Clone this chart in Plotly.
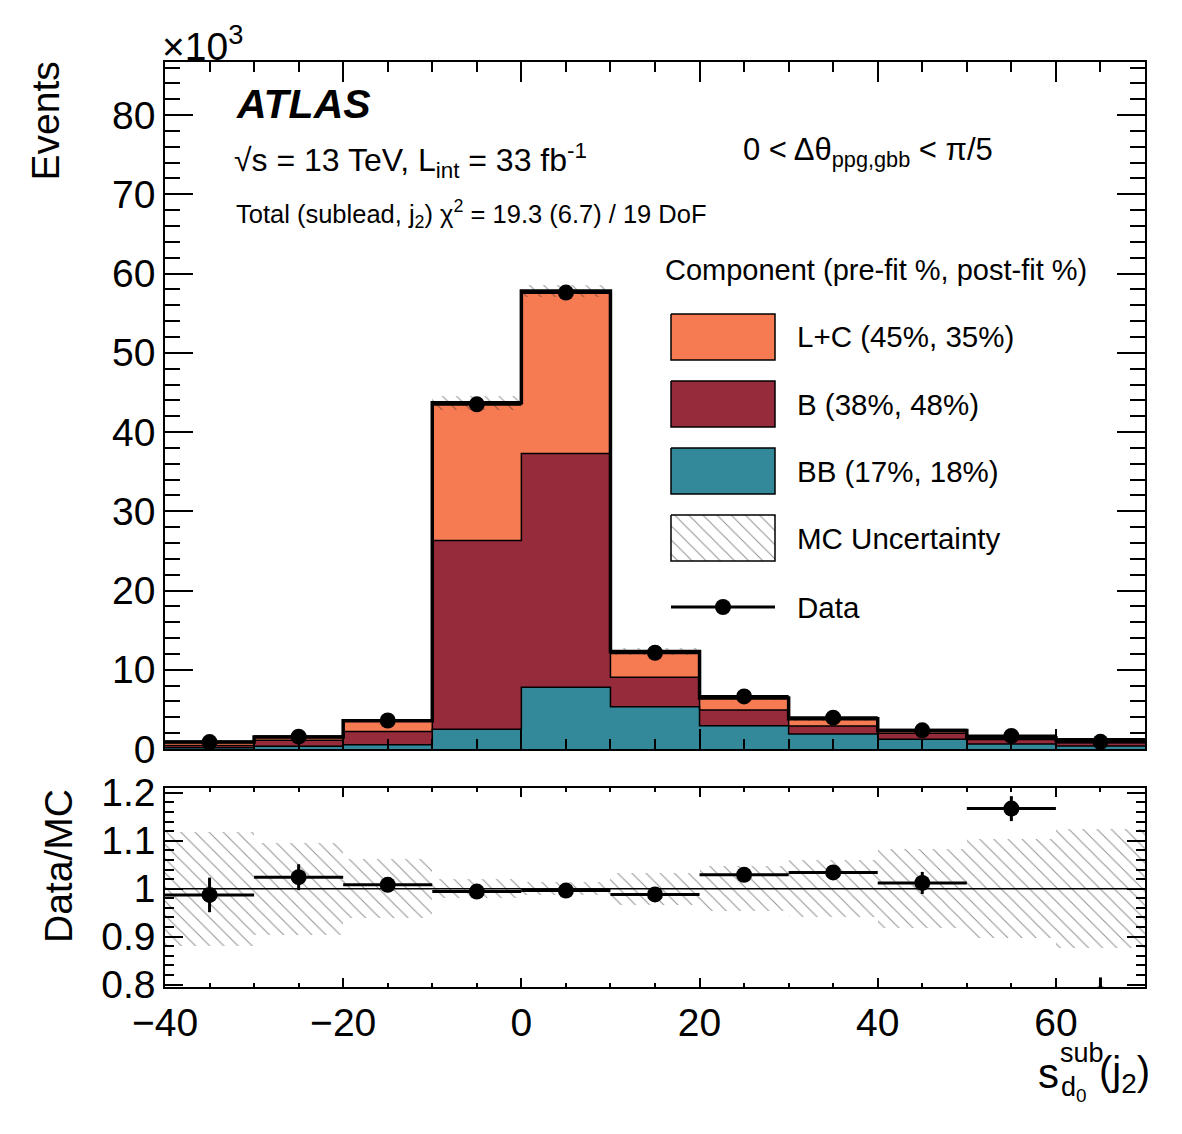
import plotly.graph_objects as go

# ---------------- data (thousands of events) ----------------
bin_centers = [-35, -25, -15, -5, 5, 15, 25, 35, 45, 55, 65]
bin_width = 10
bb_vals = [0.15, 0.35, 0.55, 2.5, 7.8, 5.34, 2.94, 1.89, 1.22, 0.63, 0.38]
b_vals = [0.30, 0.75, 1.65, 23.8, 29.5, 3.71, 1.98, 1.01, 0.76, 0.57, 0.42]
lc_vals = [0.43, 0.42, 1.37, 17.4, 20.5, 3.25, 1.53, 0.92, 0.35, 0.22, 0.36]
data_vals = [0.87, 1.56, 3.6, 43.5, 57.6, 12.15, 6.63, 3.95, 2.36, 1.65, 0.9]
ratio_vals = [0.987, 1.024, 1.008, 0.994, 0.996, 0.988, 1.029, 1.034, 1.012, 1.167, 0.78]
ratio_err = [0.036, 0.027, 0.015, 0.006, 0.005, 0.010, 0.012, 0.015, 0.023, 0.026, 0.035]
mc_rel_unc = [0.119, 0.096, 0.061, 0.020, 0.013, 0.033, 0.047, 0.060, 0.082, 0.103, 0.124]

legend_labels = ["L+C (45%, 35%)", "B (38%, 48%)", "BB (17%, 18%)", "MC Uncertainty", "Data"]
col_lc = "#F67B52"
col_b = "#962B3C"
col_bb = "#338899"

FONT = "Liberation Sans, Arial, Helvetica, sans-serif"

# derived
n = len(bin_centers)
cum_bb = bb_vals
cum_b = [bb_vals[i] + b_vals[i] for i in range(n)]
total = [cum_b[i] + lc_vals[i] for i in range(n)]
unc_abs = [total[i] * mc_rel_unc[i] for i in range(n)]
edges = [c - bin_width / 2 for c in bin_centers] + [bin_centers[-1] + bin_width / 2]

fig = go.Figure()

# stacked fills
for base, h, col in [([0] * n, bb_vals, col_bb), (cum_bb, b_vals, col_b), (cum_b, lc_vals, col_lc)]:
    fig.add_trace(go.Bar(x=bin_centers, y=h, base=base, width=bin_width,
                         marker=dict(color=col, line=dict(width=0)),
                         xaxis="x", yaxis="y", showlegend=False, hoverinfo="skip"))

# component outlines (step)
def step_y(v):
    return list(v) + [v[-1]]

for v in [cum_bb, cum_b]:
    fig.add_trace(go.Scatter(x=edges, y=step_y(v), mode="lines", line=dict(color="black", width=1.5, shape="hv"),
                             xaxis="x", yaxis="y", showlegend=False, hoverinfo="skip"))

HATCH = dict(shape="\\", fgcolor="#222", bgcolor="rgba(0,0,0,0)", size=10, solidity=0.1)

# MC uncertainty hatch (top)
fig.add_trace(go.Bar(x=bin_centers, y=[2 * u for u in unc_abs], base=[total[i] - unc_abs[i] for i in range(n)],
                     width=bin_width,
                     marker=dict(color="rgba(0,0,0,0)", line=dict(width=0), pattern=HATCH),
                     xaxis="x", yaxis="y", showlegend=False, hoverinfo="skip"))

# total outline
fig.add_trace(go.Scatter(x=edges, y=step_y(total), mode="lines", line=dict(color="black", width=3.5, shape="hv"),
                         xaxis="x", yaxis="y", showlegend=False, hoverinfo="skip"))

# data top
fig.add_trace(go.Scatter(x=bin_centers, y=data_vals, mode="markers",
                         marker=dict(color="black", size=16),
                         error_x=dict(type="constant", value=bin_width / 2, color="black", thickness=3, width=0),
                         xaxis="x", yaxis="y", showlegend=False))

# ratio hatch
fig.add_trace(go.Bar(x=bin_centers, y=[2 * u for u in mc_rel_unc], base=[1 - u for u in mc_rel_unc],
                     width=bin_width,
                     marker=dict(color="rgba(0,0,0,0)", line=dict(width=0), pattern=HATCH),
                     xaxis="x2", yaxis="y2", showlegend=False, hoverinfo="skip"))

# ratio points
fig.add_trace(go.Scatter(x=bin_centers, y=ratio_vals, mode="markers",
                         marker=dict(color="black", size=16),
                         error_x=dict(type="constant", value=bin_width / 2, color="black", thickness=3, width=0),
                         error_y=dict(type="data", array=ratio_err, color="black", thickness=3, width=0),
                         xaxis="x2", yaxis="y2", showlegend=False))

# ---------------- legend on a pixel overlay axis ----------------
def box(x0, y0, x1, y1):
    return [x0, x1, x1, x0, x0], [y0, y0, y1, y1, y0]

legend_rows = [337, 404, 471, 538, 607]
for i, col in enumerate([col_lc, col_b, col_bb]):
    bx, by = box(671, legend_rows[i] - 23, 775, legend_rows[i] + 23)
    fig.add_trace(go.Scatter(x=bx, y=by, mode="lines", fill="toself", fillcolor=col,
                             line=dict(color="black", width=1.5), xaxis="x3", yaxis="y3",
                             showlegend=False, hoverinfo="skip"))
bx, by = box(671, legend_rows[3] - 23, 775, legend_rows[3] + 23)
fig.add_trace(go.Scatter(x=bx, y=by, mode="lines", fill="toself", fillcolor="rgba(0,0,0,0)",
                         fillpattern=dict(shape="\\", fgcolor="#222", bgcolor="white", size=10, solidity=0.1),
                         line=dict(color="black", width=1.5), xaxis="x3", yaxis="y3",
                         showlegend=False, hoverinfo="skip"))
fig.add_trace(go.Scatter(x=[671, 775], y=[legend_rows[4]] * 2, mode="lines",
                         line=dict(color="black", width=3),
                         xaxis="x3", yaxis="y3", showlegend=False, hoverinfo="skip"))
fig.add_trace(go.Scatter(x=[723], y=[legend_rows[4]], mode="markers",
                         marker=dict(color="black", size=16, opacity=1),
                         xaxis="x3", yaxis="y3", showlegend=False, hoverinfo="skip"))

# ---------------- layout ----------------
W, H = 1182, 1134
L, R, T, B = 165, 1145, 62, 987

def px(xp):
    return (xp - L) / (R - L)

def py(yp):
    return (B - yp) / (B - T)

ann = []
def text(xp, yp, s, size, xanchor="left", yanchor="middle", angle=0):
    ann.append(dict(x=px(xp), y=py(yp), xref="paper", yref="paper", text=s, showarrow=False,
                    xanchor=xanchor, yanchor=yanchor, textangle=angle,
                    font=dict(family=FONT, size=size, color="black")))

text(234, 104, "<b><i>ATLAS</i></b>", 41)
text(232, 160, "√s = 13 TeV, L<sub>int</sub> = 33 fb<sup>-1</sup>", 32)
text(234, 214, "Total (sublead, j<sub>2</sub>) χ<sup>2</sup> = 19.3 (6.7) / 19 DoF", 25.5)
text(741, 152, "0 < Δθ<sub>ppg,gbb</sub> < π/5", 31)
text(663, 270, "Component (pre-fit %, post-fit %)", 29)
for i, lab in enumerate(legend_labels):
    text(795, legend_rows[i], lab, 29.5)
text(160, 44, "×10<sup>3</sup>", 39)
text(45, 60, "Events", 39, xanchor="center", yanchor="top", angle=-90)
text(58, 866, "Data/MC", 39, xanchor="center", yanchor="middle", angle=-90)
# x-axis title pieces
text(1048, 1073, "s", 42, xanchor="center")
text(1058, 1053, "sub", 27)
text(1059, 1089, "d<sub>0</sub>", 27)
text(1097, 1074, "(j<sub>2</sub>)", 40)

axis_common = dict(showgrid=False, zeroline=False, showline=True, linecolor="black", linewidth=1.5,
                   mirror="allticks", ticks="inside", tickcolor="black", tickwidth=1.5,
                   tickfont=dict(family=FONT, size=39, color="black"))

top_dom = [py(749), 1.0]
rat_dom = [0.0, py(788)]

fig.update_layout(
    width=W, height=H,
    margin=dict(l=L, r=W - R, t=T, b=H - B),
    paper_bgcolor="white", plot_bgcolor="rgba(0,0,0,0)",
    barmode="overlay", bargap=0,
    showlegend=False,
    annotations=ann,
    xaxis=dict(axis_common, domain=[0, 1], range=[-40, 70], anchor="y", dtick=20, tick0=0,
               ticklen=20, showticklabels=False,
               minor=dict(dtick=5, ticklen=10, ticks="inside", tickcolor="black", tickwidth=1.5)),
    yaxis=dict(axis_common, domain=top_dom, range=[0, 86.7], anchor="x", dtick=10, tick0=0,
               ticklen=28,
               minor=dict(dtick=2, ticklen=15, ticks="inside", tickcolor="black", tickwidth=1.5)),
    xaxis2=dict(axis_common, domain=[0, 1], range=[-40, 70], anchor="y2", dtick=20, tick0=0,
                ticklen=9, ticklabelstandoff=0,
                minor=dict(dtick=5, ticklen=4, ticks="inside", tickcolor="black", tickwidth=1.5)),
    yaxis2=dict(axis_common, domain=rat_dom, range=[0.795, 1.21], anchor="x2", dtick=0.1, tick0=0,
                ticklen=18,
                minor=dict(dtick=0.02, ticklen=9, ticks="inside", tickcolor="black", tickwidth=1.5)),
    xaxis3=dict(domain=[0, 1], range=[L, R], visible=False, anchor="y3", fixedrange=True),
    yaxis3=dict(domain=[0, 1], range=[B, T], visible=False, anchor="x3", fixedrange=True),
    shapes=[dict(type="line", xref="x2 domain", yref="y2", x0=0, x1=1, y0=1, y1=1,
                 line=dict(color="black", width=1.5))],
)

fig.write_html("out.html")
